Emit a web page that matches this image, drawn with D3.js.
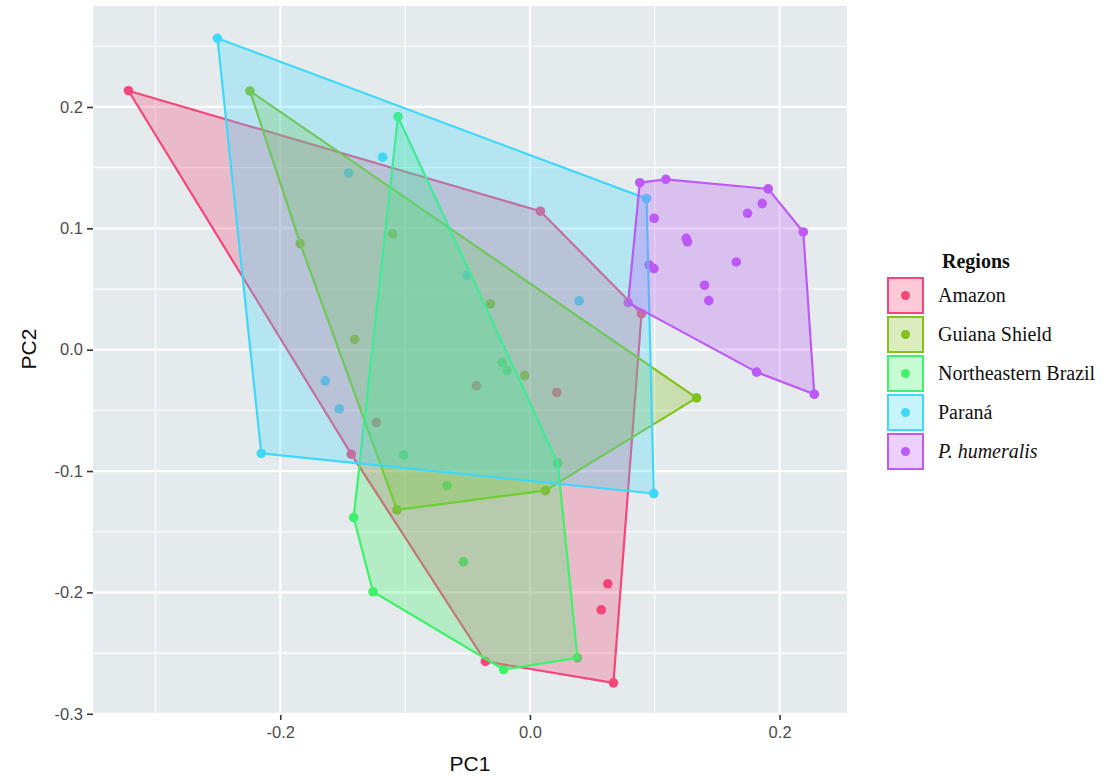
<!DOCTYPE html>
<html><head><meta charset="utf-8">
<script src="https://cdn.jsdelivr.net/npm/d3@7"></script>
<style>body{margin:0;background:#fff}svg{display:block}</style>
</head><body>
<svg id="chart" width="1116" height="776"></svg>
<script>
const groups = ["Amazon","Guiana Shield","Northeastern Brazil","Paraná","P. humeralis"];
const colors = ["#F5467A","#82C21A","#3EF26A","#40D8FA","#BC5AF8"];
const amazon = [[-0.3216,0.2134],[0.0084,0.1141],[0.0894,0.0297],[-0.0429,-0.0298],[0.0215,-0.0353],[-0.1230,-0.0600],[-0.1431,-0.0861],[0.0624,-0.1929],[0.0571,-0.2143],[-0.0357,-0.2569],[0.0669,-0.2745]];
const guiana = [[-0.2243,0.2132],[-0.1840,0.0874],[-0.1100,0.0954],[-0.1404,0.0086],[-0.0317,0.0377],[-0.0042,-0.0213],[0.1335,-0.0397],[0.0124,-0.1161],[-0.1065,-0.1320]];
const northeast = [[-0.1057,0.1920],[-0.0223,-0.0106],[-0.0183,-0.0172],[0.0223,-0.0935],[-0.0664,-0.1119],[-0.1012,-0.0869],[-0.1412,-0.1383],[-0.0533,-0.1748],[-0.1257,-0.1995],[0.0381,-0.2539],[-0.0210,-0.2635]];
const parana = [[-0.2503,0.2566],[-0.1180,0.1586],[-0.1452,0.1456],[-0.0503,0.0616],[0.0934,0.1245],[0.0394,0.0402],[-0.1639,-0.0257],[-0.1527,-0.0488],[-0.2152,-0.0855],[0.0992,-0.1185]];
const humeralis = [[0.0880,0.1376],[0.1089,0.1404],[0.1909,0.1325],[0.1861,0.1204],[0.1743,0.1124],[0.0995,0.1083],[0.2190,0.0970],[0.1252,0.0918],[0.1262,0.0889],[0.1653,0.0723],[0.0955,0.0698],[0.0993,0.0668],[0.1399,0.0531],[0.1433,0.0404],[0.0787,0.0388],[0.1816,-0.0185],[0.2278,-0.0367]];
const seriesData = [amazon, guiana, northeast, parana, humeralis];
const xTicks = [-0.2, 0.0, 0.2];
const xMinor = [-0.3, -0.1, 0.1];
const yTicks = [-0.3, -0.2, -0.1, 0.0, 0.1, 0.2];
const yMinor = [-0.25, -0.15, -0.05, 0.05, 0.15, 0.25];

const svg = d3.select("#chart");
const P = {l:93, r:847, t:6, b:715};
const x = d3.scaleLinear().domain([-0.350, 0.254]).range([P.l, P.r]);
const y = d3.scaleLinear().domain([-0.301, 0.2832]).range([P.b, P.t]);
const fmt = d => d.toFixed(1);
const FA = 0.29;

svg.append("rect").attr("x",P.l).attr("y",P.t).attr("width",P.r-P.l).attr("height",P.b-P.t).attr("fill","#E5EAEC");
const grid = svg.append("g");
grid.selectAll(".xmi").data(xMinor).join("line").attr("x1",d=>x(d)).attr("x2",d=>x(d)).attr("y1",P.t).attr("y2",P.b).attr("stroke","#fff").attr("stroke-width",1.1);
grid.selectAll(".ymi").data(yMinor).join("line").attr("y1",d=>y(d)).attr("y2",d=>y(d)).attr("x1",P.l).attr("x2",P.r).attr("stroke","#fff").attr("stroke-width",1.1);
grid.selectAll(".xma").data(xTicks).join("line").attr("x1",d=>x(d)).attr("x2",d=>x(d)).attr("y1",P.t).attr("y2",P.b).attr("stroke","#fff").attr("stroke-width",2.2);
grid.selectAll(".yma").data(yTicks).join("line").attr("y1",d=>y(d)).attr("y2",d=>y(d)).attr("x1",P.l).attr("x2",P.r).attr("stroke","#fff").attr("stroke-width",2.2);

// points first (beneath hull fills)
const pts = svg.append("g");
seriesData.forEach((arr,i)=>{
  pts.selectAll(null).data(arr).join("circle")
    .attr("cx",d=>x(d[0])).attr("cy",d=>y(d[1])).attr("r",4.8).attr("fill",colors[i]);
});
// hulls
const hulls = svg.append("g");
seriesData.forEach((arr,i)=>{
  const h = d3.polygonHull(arr.map(d=>[x(d[0]),y(d[1])]));
  hulls.append("path").attr("d","M"+h.join("L")+"Z")
    .attr("fill",colors[i]).attr("fill-opacity",FA)
    .attr("stroke",colors[i]).attr("stroke-width",2.2).attr("stroke-linejoin","round");
});

// axes
const xAxis = d3.axisBottom(x).tickValues(xTicks).tickFormat(fmt).tickSize(5).tickPadding(4);
const gx = svg.append("g").attr("transform",`translate(0,${P.b})`).call(xAxis);
gx.select(".domain").remove();
gx.selectAll(".tick line").attr("stroke","#333").attr("stroke-width",1.6);
gx.selectAll("text").attr("fill","#4D4D4D").style("font-family","Liberation Sans, Arial, sans-serif").style("font-size","16.5px").attr("dy","0.85em");
const yAxis = d3.axisLeft(y).tickValues(yTicks).tickFormat(fmt).tickSize(6).tickPadding(4);
const gy = svg.append("g").attr("transform",`translate(${P.l},0)`).call(yAxis);
gy.select(".domain").remove();
gy.selectAll(".tick line").attr("stroke","#333").attr("stroke-width",1.6);
gy.selectAll("text").attr("fill","#4D4D4D").style("font-family","Liberation Sans, Arial, sans-serif").style("font-size","16.5px");

svg.append("text").attr("x",(P.l+P.r)/2).attr("y",771).attr("text-anchor","middle")
  .style("font-family","Liberation Sans, Arial, sans-serif").style("font-size","21px").attr("fill","#111").text("PC1");
svg.append("text").attr("transform",`translate(36,349) rotate(-90)`).attr("text-anchor","middle")
  .style("font-family","Liberation Sans, Arial, sans-serif").style("font-size","21px").attr("fill","#111").text("PC2");

// legend
const lg = svg.append("g").style("font-family","Liberation Serif, Times New Roman, serif");
lg.append("text").attr("x",942).attr("y",268).style("font-size","20px").style("font-weight","bold").attr("fill","#111").text("Regions");
groups.forEach((g,i)=>{
  const top = 278 + i*39;
  lg.append("rect").attr("x",888).attr("y",top).attr("width",35).attr("height",35)
    .attr("fill",colors[i]).attr("fill-opacity",FA).attr("stroke",colors[i]).attr("stroke-width",2);
  lg.append("circle").attr("cx",905.5).attr("cy",top+17.5).attr("r",4.5).attr("fill",colors[i]);
  lg.append("text").attr("x",938).attr("y",top+24).style("font-size","20px").attr("fill","#111")
    .style("font-style", i===4 ? "italic" : "normal").text(g);
});
</script>
</body></html>
